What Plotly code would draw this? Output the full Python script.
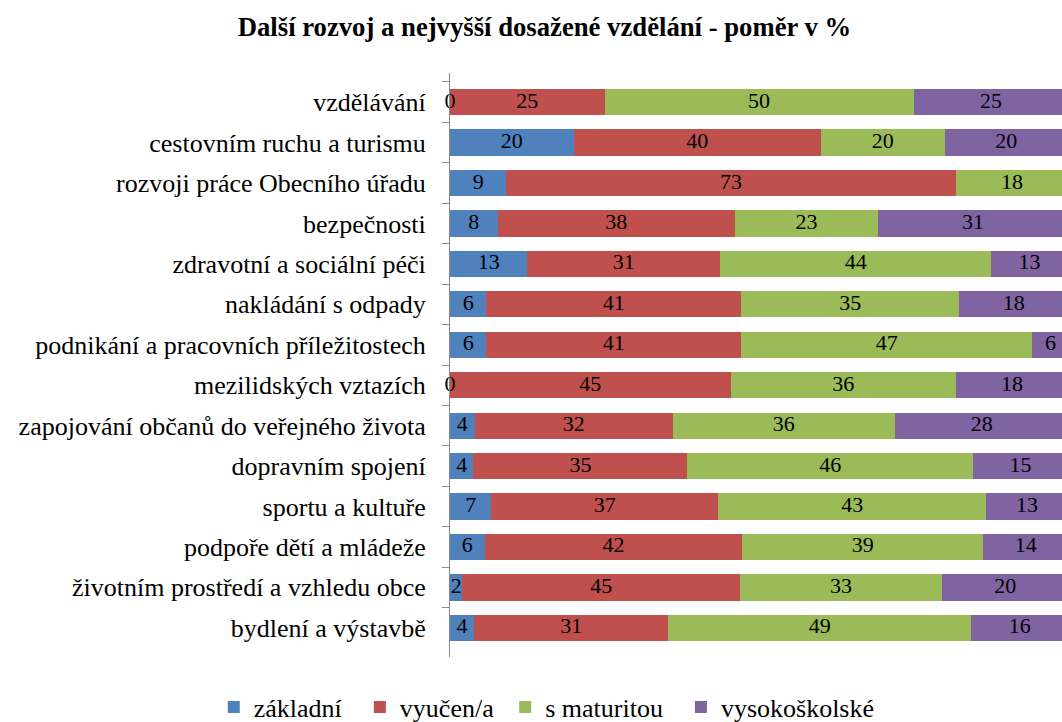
import numpy as np
import plotly.graph_objects as go

categories = [
    "vzdělávání",
    "cestovním ruchu a turismu",
    "rozvoji práce Obecního úřadu",
    "bezpečnosti",
    "zdravotní a sociální péči",
    "nakládání s odpady",
    "podnikání a pracovních příležitostech",
    "mezilidských vztazích",
    "zapojování občanů do veřejného života",
    "dopravním spojení",
    "sportu a kultuře",
    "podpoře dětí a mládeže",
    "životním prostředí a vzhledu obce",
    "bydlení a výstavbě",
]

zakladni = [0, 20, 9.1, 7.7, 12.5, 5.9, 5.9, 0, 4, 3.8, 6.7, 5.6, 2.0, 3.9]
vyucen = [25, 40, 72.7, 38.4, 31.25, 41.2, 41.2, 45.4, 32, 34.6, 36.7, 41.7, 44.9, 31.4]
maturita = [50, 20, 18.2, 23.1, 43.75, 35.3, 47.1, 36.4, 36, 46.2, 43.3, 38.9, 32.7, 49.0]
vysokoskolske = [25, 20, 0, 30.8, 12.5, 17.6, 5.9, 18.2, 28, 15.4, 13.3, 13.9, 20.4, 15.7]

series_names = ["základní", "vyučen/a", "s maturitou", "vysokoškolské"]
series_colors = ["#4F81BD", "#C0504D", "#9BBB59", "#8064A2"]
series_values = [zakladni, vyucen, maturita, vysokoskolske]
legend_pad = [2, 1, 2, 0]  # extra spacing after legend entries (non-breaking spaces)

title_text = "Další rozvoj a nejvyšší dosažené vzdělání - poměr v %"
FONT = "Liberation Serif"
X_MAX = 99.0

fig = go.Figure()
for name, color, vals, pad in zip(series_names, series_colors, series_values, legend_pad):
    fig.add_trace(go.Bar(
        y=categories, x=vals, name=name + "\u00a0" * pad, orientation="h",
        marker=dict(color=color, line=dict(width=0)),
        hovertemplate="%{y}: %{x}<extra>" + name + "</extra>",
    ))

# data labels centred on each segment
arr = np.array(series_values, dtype=float)
starts = np.vstack([np.zeros(arr.shape[1]), np.cumsum(arr, axis=0)[:-1]])
mids = starts + arr / 2
lx, ly, lt = [], [], []
for s in range(arr.shape[0]):
    for i, cat in enumerate(categories):
        if mids[s, i] <= X_MAX:
            lx.append(mids[s, i])
            ly.append(cat)
            lt.append(str(int(np.floor(arr[s, i] + 0.5))))
fig.add_trace(go.Scatter(
    x=lx, y=ly, text=lt, mode="text", textposition="middle center",
    textfont=dict(family=FONT, size=22, color="black"),
    showlegend=False, hoverinfo="skip", cliponaxis=False,
))

fig.update_layout(
    template="none",
    width=1062, height=722,
    barmode="stack", bargap=0.35,
    margin=dict(l=450, r=0, t=73, b=65, autoexpand=False),
    paper_bgcolor="white", plot_bgcolor="white",
    font=dict(family=FONT, color="black"),
    title=dict(
        text=title_text,
        font=dict(family=FONT, size=26.7, color="black", weight="bold"),
        xref="container", x=0.5127, xanchor="center",
        yref="container", y=1 - 27 / 722, yanchor="middle",
    ),
    xaxis=dict(range=[0, X_MAX], visible=False, showgrid=False, zeroline=False, automargin=False),
    yaxis=dict(
        type="category", categoryorder="array", categoryarray=categories,
        autorange="reversed", showline=True, linecolor="#898989", linewidth=1,
        ticks="outside", tickson="boundaries", ticklen=7, tickcolor="#898989",
        tickfont=dict(family=FONT, size=26, color="black"),
        showgrid=False, zeroline=False, automargin=False,
        ticklabelstandoff=18,
    ),
    legend=dict(
        orientation="h", xref="paper", yref="paper",
        x=-0.386, xanchor="left", y=-0.0856, yanchor="middle",
        font=dict(family=FONT, size=26, color="black"),
        traceorder="normal", bgcolor="rgba(0,0,0,0)",
    ),
)

fig.write_html(
    "out.html",
    config={"displayModeBar": False},
    post_script="document.body.style.margin='0px';document.body.style.overflow='hidden';",
)
